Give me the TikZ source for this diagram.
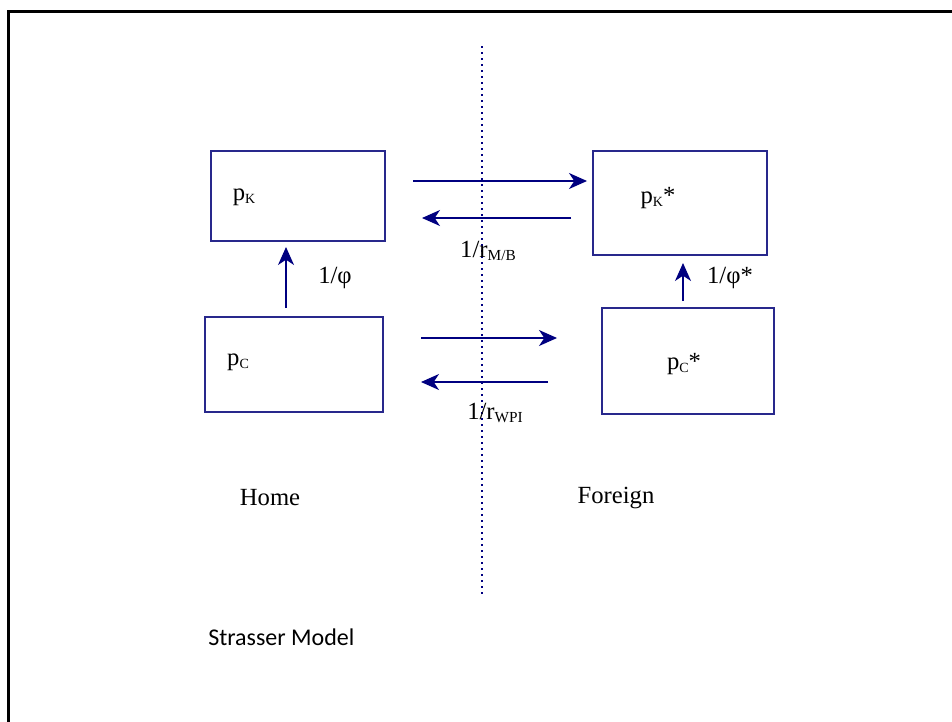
\documentclass[tikz,border=0pt]{standalone}
\usepackage{fontspec}
\setmainfont{Liberation Serif}
\newfontfamily\captionfont{Carlito}
\usepackage{xcolor}
\usetikzlibrary{arrows.meta}
\usetikzlibrary{positioning}

\definecolor{boxblue}{RGB}{40,40,140}
\definecolor{arrowblue}{RGB}{0,0,128}

\newcommand{\lowidx}[2][10.5pt]{\raisebox{-0.25ex}{\fontsize{#1}{#1}\selectfont #2}}

\begin{document}
\begin{tikzpicture}[
    x=0.75pt, y=-0.75pt,
    every node/.style={font=\fontsize{18.5pt}{20pt}\selectfont, inner sep=0pt},
    pricebox/.style={rectangle, draw=boxblue, line width=1pt, outer sep=0pt},
    flow/.style={draw=arrowblue, line width=1pt, -{Stealth[length=13.5pt, width=12pt, inset=4pt]}},
    edge label/.style={font=\fontsize{18.5pt}{20pt}\selectfont},
  ]
  \useasboundingbox (0,0) rectangle (952,721);

  % Frame
  \draw[line width=2.25pt, line join=miter] (8,730) -- (8,11) -- (960,11);

  % Home boxes
  \node[pricebox, minimum width=130.5pt, minimum height=67.5pt] (pK) at (298,196) {};
  \node[pricebox, minimum width=133.5pt, minimum height=71.25pt] (pC) at (294,364.5) {};

  % Foreign boxes
  \node[pricebox, minimum width=130.5pt, minimum height=78pt] (pKs) at (680,203) {};
  \node[pricebox, minimum width=129pt, minimum height=79.5pt] (pCs) at (688,361) {};

  % Box texts
  \node (pKtext)  at (244,197) {p\lowidx{K}};
  \node (pCtext)  at (238,362) {p\lowidx{C}};
  \node (pKstext) at (658,198) {p\lowidx{K}*};
  \node (pCstext) at (684,364) {p\lowidx{C}*};

  % Border
  \draw[arrowblue, line width=1.5pt, dash pattern=on 1.5pt off 3pt] (482,46) -- (482,597);

  % Arrow ends
  \coordinate (mbA) at (413,181);
  \coordinate (mbB) at (587,181);
  \coordinate (mbC) at (571,218);
  \coordinate (mbD) at (422,218);
  \coordinate (wpA) at (421,338);
  \coordinate (wpB) at (557,338);
  \coordinate (wpC) at (548,382);
  \coordinate (wpD) at (421,382);
  \coordinate (phA) at (286,308);
  \coordinate (phB) at (286,247);
  \coordinate (psA) at (683,301);
  \coordinate (psB) at (683,263);

  % Arrows
  \draw[flow] (mbA) -- (mbB);
  \draw[flow] (mbC) -- (mbD);
  \draw[flow] (wpA) -- (wpB);
  \draw[flow] (wpC) -- (wpD);
  \draw[flow] (phA) -- (phB);
  \draw[flow] (psA) -- (psB);

  % Labels
  \node[edge label] (phi)  at (335,278) {1/φ};
  \node[edge label] (phis) at (730,278) {1/φ*};
  \node[edge label] (rmb)  at (488,251) {1/r\lowidx[11.5pt]{M/B}};
  \node[edge label] (rwpi) at (495,413) {1/r\lowidx[11.5pt]{WPI}};

  \node (home)    at (270,498) {Home};
  \node (foreign) at (616,498) {Foreign};

  \node[anchor=west, font=\captionfont\fontsize{18pt}{20pt}\selectfont] (title) at (208,637) {Strasser Model};

\end{tikzpicture}
\end{document}
